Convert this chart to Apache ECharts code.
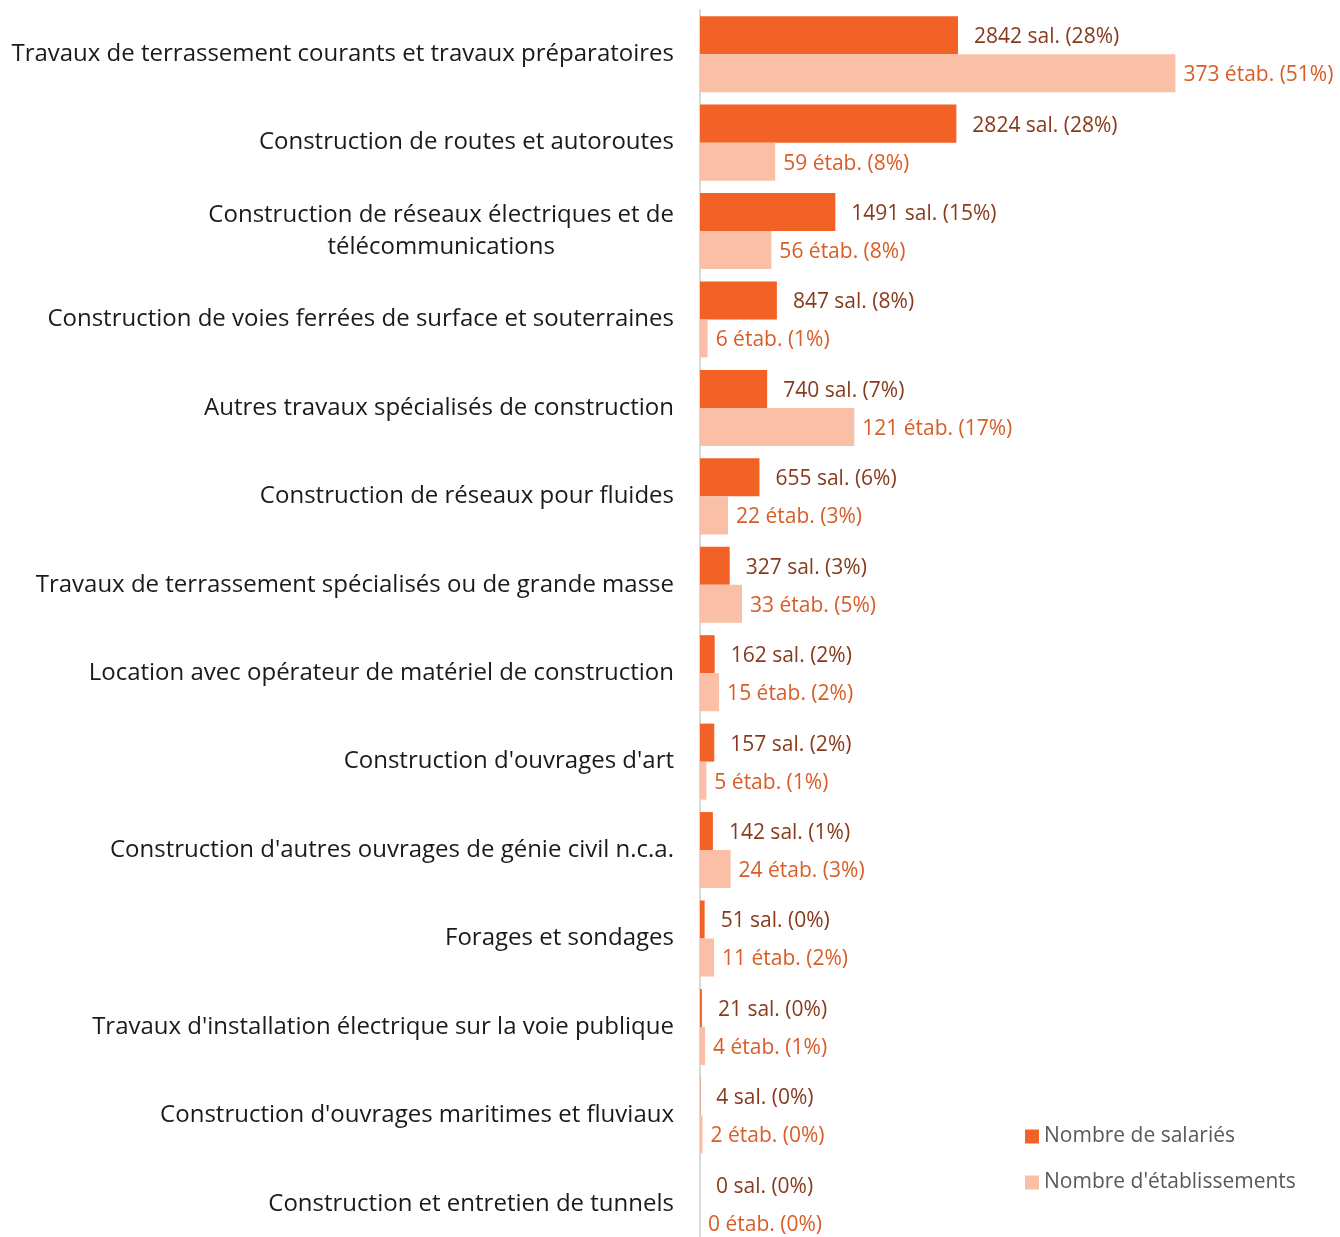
<!DOCTYPE html>
<html><head><meta charset="utf-8">
<script src="https://cdn.jsdelivr.net/npm/echarts@6/dist/echarts.min.js"></script>
<style>html,body{margin:0;padding:0;background:#fff}#c{width:1340px;height:1237px}</style>
</head><body><div id="c"></div>
<script>
const categories = [
  "Travaux de terrassement courants et travaux préparatoires",
  "Construction de routes et autoroutes",
  "Construction de réseaux électriques et de\ntélécommunications",
  "Construction de voies ferrées de surface et souterraines",
  "Autres travaux spécialisés de construction",
  "Construction de réseaux pour fluides",
  "Travaux de terrassement spécialisés ou de grande masse",
  "Location avec opérateur de matériel de construction",
  "Construction d'ouvrages d'art",
  "Construction d'autres ouvrages de génie civil n.c.a.",
  "Forages et sondages",
  "Travaux d'installation électrique sur la voie publique",
  "Construction d'ouvrages maritimes et fluviaux",
  "Construction et entretien de tunnels"
];
const salaries = [2842, 2824, 1491, 847, 740, 655, 327, 162, 157, 142, 51, 21, 4, 0];
const etablissements = [373, 59, 56, 6, 121, 22, 33, 15, 5, 24, 11, 4, 2, 0];
const seriesNames = ["Nombre de salariés", "Nombre d'établissements"];

const totSal = salaries.reduce((a, b) => a + b, 0);
const totEtab = etablissements.reduce((a, b) => a + b, 0);
const salShare = salaries.map(v => v / totSal * 100);
const etabShare = etablissements.map(v => v / totEtab * 100);

const FONT = "'Open Sans', 'Noto Sans', sans-serif";
const chart = echarts.init(document.getElementById('c'), null, {renderer: 'canvas'});
chart.setOption({
  animation: false,
  textStyle: {fontFamily: FONT},
  grid: {left: 700, width: 559, top: 10, bottom: -11, containLabel: false, outerBoundsMode: 'none'},
  legend: {
    orient: 'vertical', left: 1025, top: 1126, padding: 0, itemWidth: 14, itemHeight: 14, itemGap: 25,
    icon: 'rect',
    textStyle: {fontFamily: FONT, fontSize: 21, lineHeight: 21, color: '#595959', padding: [0, 0, 0, 0]},
    data: seriesNames
  },
  xAxis: {type: 'value', min: 0, max: 60, show: false},
  yAxis: {
    type: 'category', inverse: true, data: categories,
    axisTick: {show: false},
    axisLine: {show: true, lineStyle: {color: '#d9d9d9', width: 2}},
    axisLabel: {
      margin: 26, fontFamily: FONT, fontSize: 24, color: '#1a1a1a', align: 'right',
      formatter: v => v.split('\n').map(l => '{c|' + l + '}').join('\n'),
      rich: {c: {align: 'center', fontFamily: FONT, fontSize: 24, color: '#1a1a1a', lineHeight: 32}}
    }
  },
  series: [
    {
      name: seriesNames[0], type: 'bar', data: salShare, barGap: '0%', barCategoryGap: '14%',
      itemStyle: {color: '#F26125'},
      label: {show: true, position: 'right', distance: 16, offset: [0, 2], fontFamily: FONT, fontSize: 21, color: '#873A1C',
        formatter: p => salaries[p.dataIndex] + ' sal. (' + Math.round(salShare[p.dataIndex]) + '%)'}
    },
    {
      name: seriesNames[1], type: 'bar', data: etabShare,
      itemStyle: {color: '#FABFA7'},
      label: {show: true, position: 'right', distance: 8, offset: [0, 2], fontFamily: FONT, fontSize: 21, color: '#D85D27',
        formatter: p => etablissements[p.dataIndex] + ' étab. (' + Math.round(etabShare[p.dataIndex]) + '%)'}
    }
  ]
});
</script></body></html>
